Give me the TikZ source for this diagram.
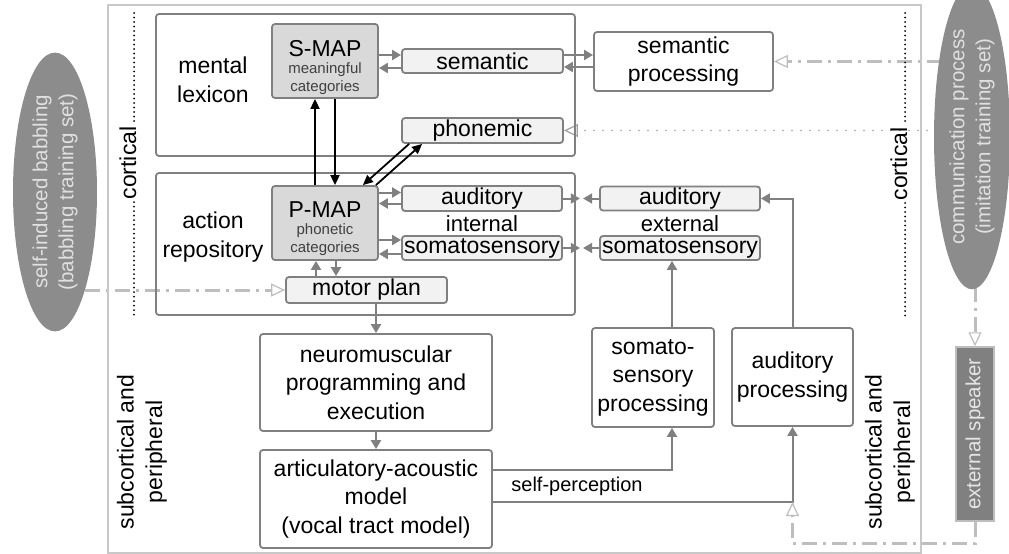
\documentclass[tikz,border=0pt]{standalone}
\usepackage{fontspec}
\setmainfont{Liberation Sans}
\usetikzlibrary{arrows.meta,shapes.geometric,backgrounds,calc}
\definecolor{bord}{HTML}{808080}
\definecolor{frame}{HTML}{C8C8C8}
\definecolor{lightfill}{HTML}{F2F2F2}
\definecolor{mapfill}{HTML}{D9D9D9}
\definecolor{ellfill}{HTML}{8C8C8C}
\definecolor{ddgray}{HTML}{BEBEBE}
\definecolor{smalltxt}{HTML}{404040}
\begin{document}
\begin{tikzpicture}[x=1pt,y=-1pt,
  box/.style={draw=bord, line width=1.8pt, rounded corners=3pt, inner sep=0pt, align=center,
              font=\fontsize{23}{28.5}\selectfont},
  mapbox/.style={draw=bord, line width=1.8pt, rounded corners=3pt, inner sep=0pt, align=center,
              fill=mapfill, minimum width=106pt, minimum height=74pt, text=smalltxt,
              font=\fontsize{15}{17.5}\selectfont},
  lbl/.style={inner sep=0pt, align=center, font=\fontsize{23}{28.5}\selectfont},
  garrow/.style={draw=bord, line width=2pt, -{Triangle[length=9pt,width=10pt]}},
  barrow/.style={draw=black, line width=1.8pt, -{Triangle[length=10pt,width=9pt]}},
  ddline/.style={draw=ddgray, line width=3pt, dash pattern=on 15pt off 6pt on 3pt off 6pt,
              -{Triangle[length=14pt,width=13pt,line width=1.2pt,fill=white]}},
  dotline/.style={draw=ddgray!85!black, line width=1.8pt, line cap=round, dash pattern=on 0pt off 9pt,
              -{Triangle[length=14pt,width=13pt,line width=1.2pt,fill=white]}},
  cortdot/.style={draw=black, line width=2pt, line cap=round, dash pattern=on 0pt off 4.5pt},
  ell/.style={ellipse, fill=ellfill, inner sep=0pt, rotate=90, align=center, text=white!88!black,
              font=\fontsize{20.5}{26}\selectfont}
]
\useasboundingbox (0,0) rectangle (1009,554);

% outer frame
\draw[frame, line width=2pt] (108,5) rectangle (921,553);

% cortical markers
\draw[cortdot] (134,13) -- (134,124);
\draw[cortdot] (134,202) -- (134,317);
\draw[cortdot] (905,13) -- (905,125);
\draw[cortdot] (905,203) -- (905,317);
\node[lbl, rotate=90, anchor=base] (cortl) at (136,163) {cortical};
\node[lbl, rotate=90, anchor=base] (cortr) at (907,164) {cortical};

\node[lbl, rotate=90] (subl) at (142,452) {subcortical and\\peripheral};
\node[lbl, rotate=90] (subr) at (890,452) {subcortical and\\peripheral};

% big boxes
\node[box, minimum width=419pt, minimum height=142pt] (lex) at (365.5,85) {};
\node[box, minimum width=419pt, minimum height=142pt] (act) at (365.5,244) {};
\node[lbl] (mental) at (213,80) {mental\\lexicon};
\node[lbl] (action) at (213,237) {action\\repository};

% maps
\node[mapbox] (smap) at (325,61)
  {\fontsize{23}{24}\selectfont\color{black}\rule{0pt}{29pt}S-MAP\\meaningful\\categories};
\node[mapbox] (pmap) at (325,223)
  {\fontsize{23}{24}\selectfont\color{black}\rule{0pt}{27pt}P-MAP\\phonetic\\categories};

% small boxes
\node[box, fill=lightfill, minimum width=161pt, minimum height=24pt] (sem) at (482.5,61) {semantic};
\node[box, fill=lightfill, minimum width=161pt, minimum height=25pt] (phon) at (482.5,130.5) {phonemic};
\node[box, minimum width=179pt, minimum height=59pt] (semproc) at (683.5,61.5) {semantic\\processing};
\node[box, fill=lightfill, minimum width=160pt, minimum height=25pt] (audi) at (482,198.5) {auditory};
\node[box, fill=lightfill, minimum width=160pt, minimum height=24pt] (somi) at (482,248) {somatosensory};
\node[box, fill=lightfill, minimum width=160pt, minimum height=24pt] (aude) at (680,198.5) {auditory};
\node[box, fill=lightfill, minimum width=160pt, minimum height=24pt] (some) at (680,248) {somatosensory};
\node[lbl, font=\fontsize{22}{26}\selectfont, text depth=0pt] (internal) at (482,224) {internal};
\node[lbl, font=\fontsize{22}{26}\selectfont, text depth=0pt] (external) at (680,224) {external};
\node[box, fill=lightfill, minimum width=161pt, minimum height=26pt] (motor) at (366.5,290) {motor plan};

% lower boxes
\node[box, minimum width=232pt, minimum height=97pt] (neuro) at (376,382.5) {neuromuscular\\programming and\\execution};
\node[box, minimum width=232pt, minimum height=98pt] (artic) at (376,499) {articulatory-acoustic\\model\\(vocal tract model)};
\node[box, minimum width=122pt, minimum height=99pt] (somproc) at (653,377.5) {somato-\\sensory\\processing};
\node[box, minimum width=121pt, minimum height=98pt] (audproc) at (792.5,377) {auditory\\processing};
\node[lbl, font=\fontsize{20}{24}\selectfont] (selfp) at (577,486) {self-perception};

% external elements
\node[ell, minimum width=248pt, minimum height=84pt] (babble) at (55,192) {self-induced babbling\\(babbling training set)};
\node[ell, minimum width=248pt, minimum height=76pt] (comm) at (972,137) {communication process\\(imitation training set)};
\node[draw=ddgray, line width=1.5pt, fill=bord, rotate=90, inner sep=0pt, minimum width=174pt, minimum height=38pt,
      text=white!90!black, font=\fontsize{20.5}{24}\selectfont] (extspk) at (975,434) {external speaker};

% training inputs (behind)
\begin{pgfonlayer}{background}
\draw[ddline] (babble.center |- motor.west) -- (motor.west);
\draw[ddline] (comm.center |- semproc.east) -- (semproc.east);
\draw[dotline] (comm.center |- phon.east) -- (phon.east);
\draw[ddline] (extspk.east |- comm.center) -- (extspk.east);
\end{pgfonlayer}

% S-MAP / P-MAP / phonemic black arrows
\draw[barrow] ([xshift=-10pt]pmap.north) -- ([xshift=-10pt]smap.south);
\draw[barrow] ([xshift=10pt]smap.south) -- ([xshift=10pt]pmap.north);
\draw[barrow] ([xshift=8pt]phon.south west) -- ([xshift=-16pt]pmap.north east);
\draw[barrow] ([xshift=-3pt]pmap.north east) -- ([xshift=21pt]phon.south west);

% gray arrows upper
\draw[garrow] ([yshift=6pt]smap.east) -- ([yshift=6pt]smap.east -| sem.west);
\draw[garrow] ([yshift=-7pt]sem.west) -- ([yshift=-7pt]sem.west -| smap.east);
\draw[garrow] ([yshift=6pt]sem.east) -- ([yshift=6pt]sem.east -| semproc.west);
\draw[garrow] ([yshift=-6pt]sem.east -| semproc.west) -- ([yshift=-6pt]sem.east);

% P-MAP <-> internal
\draw[garrow] ([yshift=6pt]audi.west -| pmap.east) -- ([yshift=6pt]audi.west);
\draw[garrow] ([yshift=-5pt]audi.west) -- ([yshift=-5pt]audi.west -| pmap.east);
\draw[garrow] ([yshift=8pt]somi.west -| pmap.east) -- ([yshift=8pt]somi.west);
\draw[garrow] ([yshift=-6pt]somi.west) -- ([yshift=-6pt]somi.west -| pmap.east);

% internal / external comparison
\draw[garrow] (audi.east) -- ([xshift=17pt]audi.east);
\draw[garrow] (aude.west) -- ([xshift=-16pt]aude.west);
\draw[garrow] (somi.east) -- ([xshift=17pt]somi.east);
\draw[garrow] (some.west) -- ([xshift=-16pt]some.west);

% P-MAP <-> motor plan
\draw[garrow] ([xshift=-9pt]pmap.south |- motor.north) -- ([xshift=-9pt]pmap.south);
\draw[garrow] ([xshift=11pt]pmap.south) -- ([xshift=11pt]pmap.south |- motor.north);

% motor chain
\draw[garrow] (neuro.north |- motor.south) -- (neuro.north);
\draw[garrow] (neuro.south) -- (artic.north);

% self-perception
\coordinate (sp2) at ([yshift=-3pt]artic.east -| audproc.south);
\draw[garrow] ([yshift=29pt]artic.east) -| ([xshift=19pt]somproc.south);
\draw[garrow] ([yshift=-3pt]artic.east) -| (audproc.south);
\draw[garrow] ([xshift=19pt]somproc.north) -- ([xshift=19pt]somproc.north |- some.south);
\draw[garrow] (audproc.north) |- (aude.east);

% external speaker to auditory perception
\draw[ddline] (extspk.west) -- ++(0,22) -| (sp2);
\end{tikzpicture}
\end{document}
